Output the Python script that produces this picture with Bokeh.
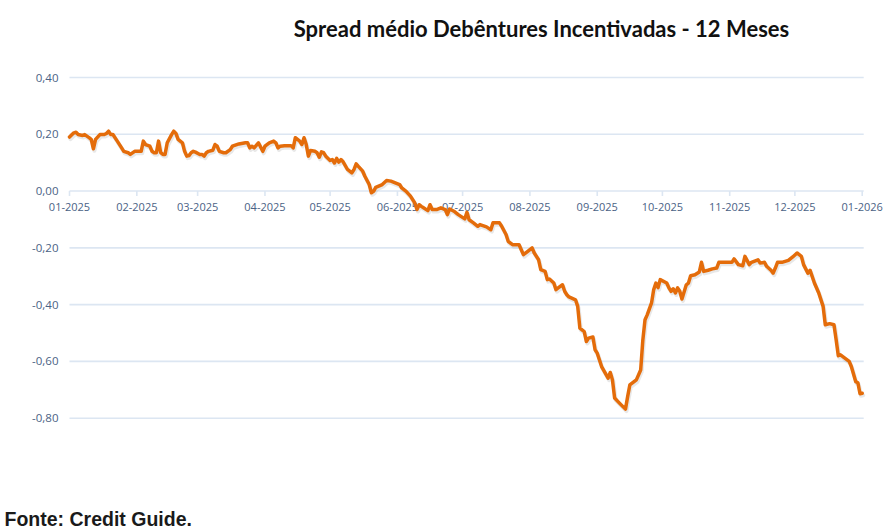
import pandas as pd

from bokeh.plotting import figure
from bokeh.models import Range1d, Label
from bokeh.core.properties import value
from bokeh.embed import file_html
from bokeh.resources import INLINE

# data
dates = [
    "2025-01-01", "2025-01-03", "2025-01-04", "2025-01-05", "2025-01-07", "2025-01-08", "2025-01-10",
    "2025-01-11", "2025-01-12", "2025-01-13", "2025-01-15", "2025-01-17", "2025-01-18", "2025-01-19",
    "2025-01-20", "2025-01-21", "2025-01-23", "2025-01-25", "2025-01-26", "2025-01-28", "2025-01-29",
    "2025-01-31", "2025-02-03", "2025-02-04", "2025-02-05", "2025-02-07", "2025-02-08", "2025-02-09",
    "2025-02-10", "2025-02-11", "2025-02-12", "2025-02-13", "2025-02-14", "2025-02-15", "2025-02-17",
    "2025-02-18", "2025-02-19", "2025-02-20", "2025-02-22", "2025-02-23", "2025-02-24", "2025-02-25",
    "2025-02-26", "2025-02-27", "2025-02-28", "2025-03-02", "2025-03-03", "2025-03-04", "2025-03-05",
    "2025-03-06", "2025-03-08", "2025-03-09", "2025-03-10", "2025-03-11", "2025-03-13", "2025-03-14",
    "2025-03-16", "2025-03-17", "2025-03-20", "2025-03-23", "2025-03-24", "2025-03-25", "2025-03-26",
    "2025-03-27", "2025-03-29", "2025-03-31", "2025-04-01", "2025-04-03", "2025-04-05", "2025-04-06",
    "2025-04-07", "2025-04-08", "2025-04-10", "2025-04-13", "2025-04-14", "2025-04-15", "2025-04-17",
    "2025-04-18", "2025-04-19", "2025-04-20", "2025-04-21", "2025-04-22", "2025-04-24", "2025-04-25",
    "2025-04-26", "2025-04-27", "2025-04-28", "2025-04-29", "2025-05-01", "2025-05-02", "2025-05-03",
    "2025-05-04", "2025-05-05", "2025-05-06", "2025-05-07", "2025-05-09", "2025-05-11", "2025-05-12",
    "2025-05-13", "2025-05-14", "2025-05-16", "2025-05-17", "2025-05-19", "2025-05-20", "2025-05-21",
    "2025-05-22", "2025-05-25", "2025-05-27", "2025-05-29", "2025-05-31", "2025-06-02", "2025-06-03",
    "2025-06-05", "2025-06-07", "2025-06-09", "2025-06-10", "2025-06-11", "2025-06-12", "2025-06-13",
    "2025-06-15", "2025-06-16", "2025-06-17", "2025-06-19", "2025-06-21", "2025-06-23", "2025-06-24",
    "2025-06-25", "2025-06-27", "2025-06-29", "2025-07-02", "2025-07-03", "2025-07-04", "2025-07-06",
    "2025-07-08", "2025-07-09", "2025-07-12", "2025-07-14", "2025-07-15", "2025-07-18", "2025-07-19",
    "2025-07-21", "2025-07-22", "2025-07-24", "2025-07-27", "2025-07-29", "2025-07-31", "2025-08-02",
    "2025-08-03", "2025-08-05", "2025-08-06", "2025-08-08", "2025-08-09", "2025-08-10", "2025-08-12",
    "2025-08-13", "2025-08-14", "2025-08-16", "2025-08-17", "2025-08-18", "2025-08-19", "2025-08-22",
    "2025-08-23", "2025-08-24", "2025-08-26", "2025-08-27", "2025-08-28", "2025-08-30", "2025-08-31",
    "2025-09-01", "2025-09-03", "2025-09-06", "2025-09-07", "2025-09-08", "2025-09-09", "2025-09-11",
    "2025-09-14", "2025-09-15", "2025-09-16", "2025-09-19", "2025-09-21", "2025-09-22", "2025-09-23",
    "2025-09-24", "2025-09-26", "2025-09-27", "2025-09-28", "2025-09-29", "2025-09-30", "2025-10-03",
    "2025-10-04", "2025-10-05", "2025-10-06", "2025-10-07", "2025-10-08", "2025-10-09", "2025-10-10",
    "2025-10-12", "2025-10-13", "2025-10-14", "2025-10-16", "2025-10-18", "2025-10-19", "2025-10-20",
    "2025-10-22", "2025-10-24", "2025-10-26", "2025-10-27", "2025-10-30", "2025-11-02", "2025-11-03",
    "2025-11-05", "2025-11-07", "2025-11-08", "2025-11-10", "2025-11-11", "2025-11-14", "2025-11-15",
    "2025-11-17", "2025-11-18", "2025-11-20", "2025-11-21", "2025-11-22", "2025-11-23", "2025-11-25",
    "2025-11-28", "2025-11-30", "2025-12-02", "2025-12-04", "2025-12-05", "2025-12-07", "2025-12-08",
    "2025-12-10", "2025-12-12", "2025-12-14", "2025-12-15", "2025-12-17", "2025-12-19", "2025-12-20",
    "2025-12-21", "2025-12-22", "2025-12-26", "2025-12-27", "2025-12-29", "2025-12-30", "2025-12-31",
    "2026-01-01",
]
spread = [
    0.190, 0.205, 0.207, 0.199, 0.196, 0.199, 0.188,
    0.182, 0.149, 0.182, 0.199, 0.199, 0.203, 0.211,
    0.199, 0.199, 0.176, 0.152, 0.140, 0.135, 0.129,
    0.140, 0.140, 0.176, 0.164, 0.158, 0.140, 0.135,
    0.135, 0.176, 0.135, 0.129, 0.129, 0.170, 0.199,
    0.211, 0.203, 0.182, 0.170, 0.140, 0.123, 0.125,
    0.135, 0.140, 0.137, 0.129, 0.129, 0.123, 0.135,
    0.140, 0.144, 0.164, 0.158, 0.140, 0.135, 0.135,
    0.146, 0.158, 0.166, 0.170, 0.170, 0.152, 0.158,
    0.152, 0.170, 0.140, 0.158, 0.170, 0.176, 0.170,
    0.152, 0.158, 0.160, 0.160, 0.152, 0.188, 0.176,
    0.164, 0.188, 0.164, 0.123, 0.143, 0.140, 0.135,
    0.119, 0.138, 0.135, 0.123, 0.108, 0.111, 0.099,
    0.115, 0.102, 0.111, 0.103, 0.076, 0.064, 0.076,
    0.096, 0.087, 0.070, 0.052, 0.023, -0.006, -0.001,
    0.013, 0.023, 0.037, 0.035, 0.029, 0.023, 0.011,
    -0.001, -0.018, -0.042, -0.065, -0.048, -0.054, -0.059,
    -0.069, -0.048, -0.065, -0.065, -0.059, -0.065, -0.083,
    -0.063, -0.071, -0.083, -0.098, -0.075, -0.101, -0.112,
    -0.124, -0.118, -0.126, -0.136, -0.112, -0.112, -0.124,
    -0.153, -0.177, -0.189, -0.189, -0.224, -0.212, -0.200,
    -0.218, -0.242, -0.277, -0.283, -0.312, -0.310, -0.324,
    -0.347, -0.341, -0.330, -0.353, -0.365, -0.373, -0.383,
    -0.406, -0.483, -0.495, -0.530, -0.518, -0.514, -0.559,
    -0.571, -0.618, -0.659, -0.639, -0.665, -0.729, -0.745,
    -0.768, -0.724, -0.683, -0.665, -0.630, -0.524, -0.453,
    -0.436, -0.394, -0.347, -0.324, -0.340, -0.312, -0.324,
    -0.341, -0.353, -0.344, -0.359, -0.341, -0.353, -0.380,
    -0.330, -0.324, -0.298, -0.295, -0.285, -0.251, -0.283,
    -0.279, -0.274, -0.271, -0.251, -0.251, -0.251, -0.239,
    -0.259, -0.263, -0.230, -0.259, -0.251, -0.242, -0.253,
    -0.251, -0.265, -0.279, -0.289, -0.271, -0.251, -0.251,
    -0.244, -0.232, -0.218, -0.230, -0.259, -0.289, -0.279,
    -0.324, -0.359, -0.406, -0.471, -0.467, -0.471, -0.524,
    -0.580, -0.577, -0.600, -0.618, -0.671, -0.675, -0.714,
    -0.712,
]

month_ticks = ["2025-01-01", "2025-02-01", "2025-03-01", "2025-04-01", "2025-05-01", "2025-06-01",
               "2025-07-01", "2025-08-01", "2025-09-01", "2025-10-01", "2025-11-01", "2025-12-01",
               "2026-01-01"]
month_labels = ["01-2025", "02-2025", "03-2025", "04-2025", "05-2025", "06-2025", "07-2025",
                "08-2025", "09-2025", "10-2025", "11-2025", "12-2025", "01-2026"]
y_ticks = [0.40, 0.20, 0.00, -0.20, -0.40, -0.60, -0.80]
y_labels = ["0,40", "0,20", "0,00", "-0,20", "-0,40", "-0,60", "-0,80"]

title_text = "Spread médio Debêntures Incentivadas - 12 Meses"
source_text = "Fonte: Credit Guide."

W, H = 894, 529
LINE_COLOR = "#E46C0A"
GRID_COLOR = "#DCE6F2"
LABEL_COLOR = "#4A6285"

x = pd.to_datetime(dates)
tx = pd.to_datetime(month_ticks)
x0, x1 = tx[0], tx[-1]

# frame fills the whole canvas; place the plot area as in the picture
px_left, px_right = 69.0, 861.7          # screen x of first / last month tick
span = (x1 - x0) / (px_right - px_left)
x_start = x0 - span * px_left
x_end = x1 + span * (W - px_right)

py_top, py_bot = 77.0, 417.7             # screen y (from top) of 0,40 and -0,80
per_px = (y_ticks[0] - y_ticks[-1]) / (py_bot - py_top)
y_top = y_ticks[0] + per_px * py_top
y_bottom = y_ticks[-1] - per_px * (H - py_bot)

p = figure(width=W, height=H, x_axis_type="datetime", output_backend="svg",
           toolbar_location=None, min_border=0,
           x_range=Range1d(x_start, x_end), y_range=Range1d(y_bottom, y_top))
p.axis.visible = False
p.grid.visible = False
p.outline_line_color = None
p.background_fill_color = "white"
p.border_fill_color = "white"

# horizontal grid lines (also the zero "axis")
grid_end = x1 + span * 1.5
p.segment(x0=[x0] * len(y_ticks), x1=[grid_end] * len(y_ticks), y0=y_ticks, y1=y_ticks,
          line_color=GRID_COLOR, line_width=1.6)

# month tick marks hanging under the zero line
tick_len = per_px * 5
p.segment(x0=tx, x1=tx, y0=[0] * len(tx), y1=[-tick_len] * len(tx),
          line_color=GRID_COLOR, line_width=1.6)

# y tick labels
p.text(x=[x0] * len(y_ticks), y=y_ticks, text=y_labels, x_offset=-11,
       text_align="right", text_baseline="middle", text_color=LABEL_COLOR,
       text_font=value("Open Sans"), text_font_size="11.5px")

# month labels under the zero line
p.text(x=tx, y=[0] * len(tx), text=month_labels, y_offset=16,
       text_align="center", text_baseline="middle", text_color=LABEL_COLOR,
       text_font=value("Open Sans"), text_font_size="11px")

# soft drop shadow, then the series
p.line(x + span * 1, [v - per_px * 2 for v in spread], line_color="#7f7f7f", line_alpha=0.18,
       line_width=4, line_join="round", line_cap="round")
p.line(x, spread, line_color=LINE_COLOR, line_width=3.5, line_join="round", line_cap="round")

p.add_layout(Label(x=541, y=H - 28.3, x_units="screen", y_units="screen", text=title_text,
                   text_align="center", text_baseline="alphabetic", text_color="#111111",
                   text_font="Lato", text_font_style="bold", text_font_size="22px"))
p.add_layout(Label(x=4, y=H - 518, x_units="screen", y_units="screen", text=source_text,
                   text_align="left", text_baseline="alphabetic", text_color="#1a1a1a",
                   text_font="Liberation Sans", text_font_style="bold", text_font_size="19.5px"))

open("out.html", "w").write(file_html(p, INLINE))
